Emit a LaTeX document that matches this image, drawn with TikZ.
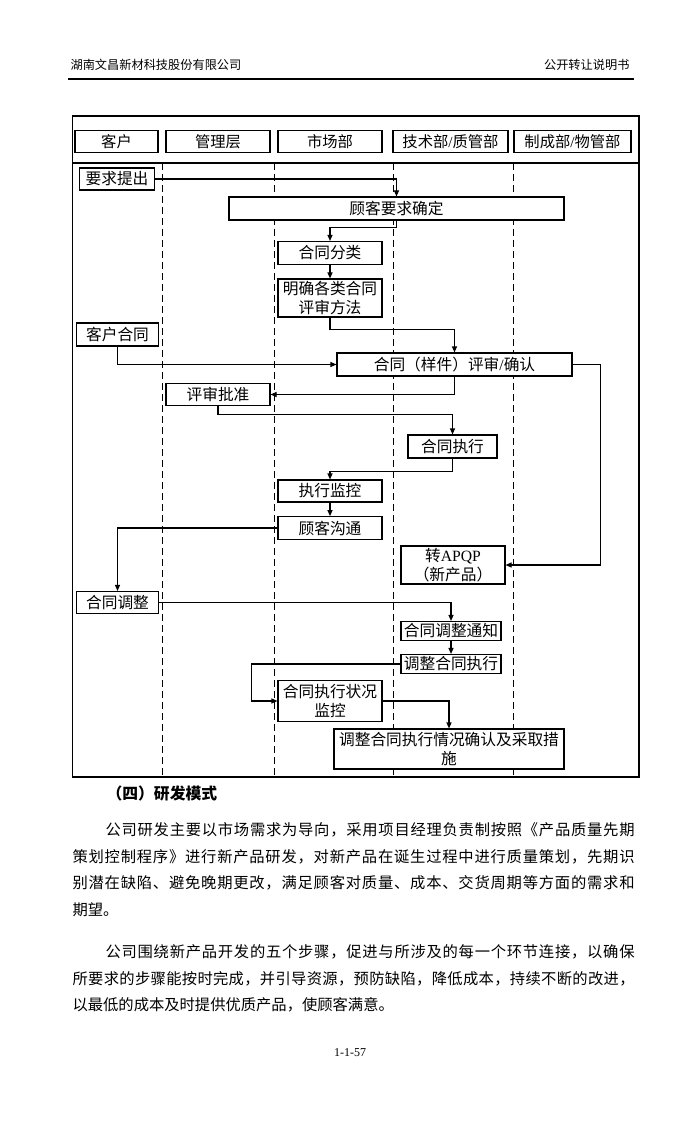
\documentclass[tikz,border=0pt]{standalone}
\usepackage{fontspec}
\setmainfont{Noto Sans CJK SC}
\newfontfamily\tnr{Liberation Serif}
\usetikzlibrary{arrows.meta}
\def\sprA#1{#1\sprB}
\def\sprB#1{\ifx#1\relax\else\hskip 0pt plus 1fil #1\expandafter\sprB\fi}
\newcommand\spreadline[1]{\sprA#1\relax}
\tikzstyle{lane} = [rectangle, draw, line width=1.1pt, minimum height=22pt, inner sep=1pt, font=\fontsize{15.3}{17}\selectfont]
\tikzstyle{block} = [rectangle, draw, fill=white, line width=1.1pt, inner sep=1pt, align=center, font=\fontsize{15.7}{19.5}\selectfont]
\tikzstyle{bodyline} = [anchor=west, inner sep=0pt, font=\fontsize{15.3}{15.3}\selectfont]
\tikzstyle{pagehead} = [inner sep=0pt, font=\fontsize{12.2}{12.2}\selectfont]

\begin{document}
\begin{tikzpicture}[>={Triangle[length=6pt,width=5pt]}, line width=1.1pt]
  \useasboundingbox (0pt,0pt) rectangle (700pt,-1131pt);
  \draw (70.0pt,-65.0pt)node[pagehead,anchor=west](ha){湖南文昌新材科技股份有限公司};
  \draw (630.0pt,-65.0pt)node[pagehead,anchor=east](hb){公开转让说明书};
  \draw[line width=1.2pt] (68.0pt,-79.0pt) -- (634.0pt,-79.0pt);

  \draw[line width=1.2pt] (72.7pt,-116.0pt) rectangle (639.0pt,-777.0pt);
  \draw[line width=1.2pt] (72.7pt,-163.0pt) -- (639.0pt,-163.0pt);
  \foreach \x in {162.5,274.5,393.5,513.5}
    \draw[line width=0.9pt, dash pattern=on 7pt off 4pt] (\x pt,-163.0pt) -- (\x pt,-777.0pt);

  \draw (116.5pt,-141.5pt)node[lane, minimum width=83pt](a){客户};
  \draw (218.0pt,-141.5pt)node[lane, minimum width=104pt](b){管理层};
  \draw (330.0pt,-141.5pt)node[lane, minimum width=104pt](c){市场部};
  \draw (450.5pt,-141.5pt)node[lane, minimum width=115pt](d){技术部{\tnr /}质管部};
  \draw (572.5pt,-141.5pt)node[lane, minimum width=117pt](e){制成部{\tnr /}物管部};

  \draw (117.0pt,-179.0pt)node[block, minimum width=75pt, minimum height=22pt](0){要求提出};
  \draw (396.5pt,-208.5pt)node[block, minimum width=335pt, minimum height=23pt](1){顾客要求确定};
  \draw (330.0pt,-253.0pt)node[block, minimum width=104pt, minimum height=23pt](2){合同分类};
  \draw (330.0pt,-298.0pt)node[block, minimum width=104pt, minimum height=38pt](3){明确各类合同\\评审方法};
  \draw (117.5pt,-334.5pt)node[block, minimum width=82pt, minimum height=23pt](4){客户合同};
  \draw (454.5pt,-364.5pt)node[block, minimum width=235pt, minimum height=23pt](5){合同（样件）评审{\tnr /}确认};
  \draw (218.0pt,-394.5pt)node[block, minimum width=104pt, minimum height=22.5pt](6){评审批准};
  \draw (452.5pt,-446.5pt)node[block, minimum width=89pt, minimum height=23pt](7){合同执行};
  \draw (330.0pt,-491.0pt)node[block, minimum width=104pt, minimum height=22pt](8){执行监控};
  \draw (330.0pt,-528.0pt)node[block, minimum width=104pt, minimum height=22.6pt](9){顾客沟通};
  \draw (453.0pt,-565.0pt)node[block, minimum width=104pt, minimum height=38pt](10){转{\tnr APQP}\\（新产品）};
  \draw (117.5pt,-602.5pt)node[block, minimum width=82pt, minimum height=22pt](11){合同调整};
  \draw (451.0pt,-631.0pt)node[block, minimum width=100pt, minimum height=19pt](12){合同调整通知};
  \draw (451.0pt,-664.0pt)node[block, minimum width=100pt, minimum height=19pt](13){调整合同执行};
  \draw (330.0pt,-701.0pt)node[block, minimum width=104pt, minimum height=41pt](14){合同执行状况\\监控};
  \draw (449.0pt,-749.0pt)node[block, minimum width=230pt, minimum height=40pt](15){调整合同执行情况确认及采取措\\施};

  \draw[->] (0.east) -| (1.north);
  \draw[->] (1.south) -- ++(0pt,-7pt) -| (2.north);
  \draw[->] (2) -- (3);
  \draw[->] (3.south) -- ++(0pt,-12pt) -| (5.north);
  \draw[->] (4.south) |- (5.west);
  \draw[->] (5.south) |- (6.east);
  \draw[->] (5.east) -- ++(28pt,0pt) |- (10.east);
  \draw[->] (6.south) -- ++(0pt,-8pt) -| (7.north);
  \draw[->] (7.south) -- ++(0pt,-13pt) -| (8.north);
  \draw[->] (8) -- (9);
  \draw[->] (9.west) -| (11.north);
  \draw[->] (11.east) -| (12.north);
  \draw[->] (12) -- (13);
  \draw[->] (13.west) -- ++(-149pt,0pt) |- (14.west);
  \draw[->] (14.east) -| (15.north);

  \draw (106.0pt,-793.0pt)node[bodyline, font=\fontsize{15.8}{15.8}\selectfont\bfseries](s){（四）研发模式};
  \draw (72.0pt,-830.0pt)node[bodyline](p1){\makebox[562pt][s]{\hspace{33pt}\spreadline{公司研发主要以市场需求为导向，采用项目经理负责制按照《产品质量先期}}};
  \draw (72.0pt,-856.7pt)node[bodyline](p2){\makebox[562pt][s]{\spreadline{策划控制程序》进行新产品研发，对新产品在诞生过程中进行质量策划，先期识}}};
  \draw (72.0pt,-883.3pt)node[bodyline](p3){\makebox[562pt][s]{\spreadline{别潜在缺陷、避免晚期更改，满足顾客对质量、成本、交货周期等方面的需求和}}};
  \draw (72.0pt,-910.0pt)node[bodyline](p4){期望。};
  \draw (72.0pt,-952.0pt)node[bodyline](q1){\makebox[562pt][s]{\hspace{33pt}\spreadline{公司围绕新产品开发的五个步骤，促进与所涉及的每一个环节连接，以确保}}};
  \draw (72.0pt,-978.7pt)node[bodyline](q2){\makebox[562pt][s]{\spreadline{所要求的步骤能按时完成，并引导资源，预防缺陷，降低成本，持续不断的改进，}}};
  \draw (72.0pt,-1005.3pt)node[bodyline](q3){以最低的成本及时提供优质产品，使顾客满意。};
  \draw (350.0pt,-1053.0pt)node[inner sep=0pt, font=\tnr\fontsize{12}{12}\selectfont](pg){1-1-57};
\end{tikzpicture}
\end{document}
